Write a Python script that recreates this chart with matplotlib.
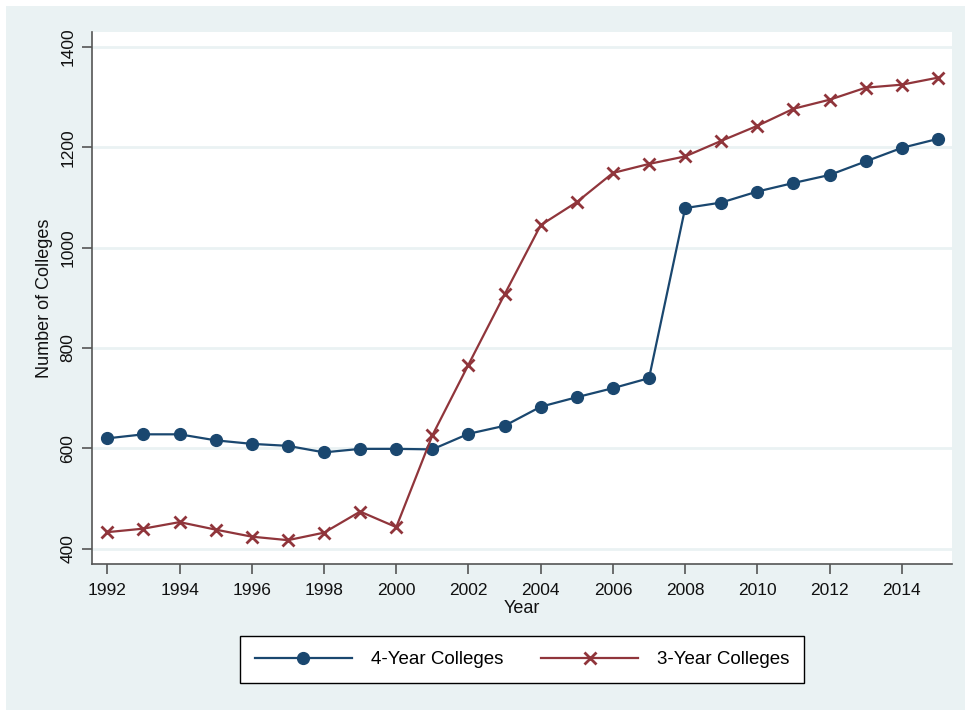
import matplotlib
matplotlib.use("Agg")
import matplotlib.pyplot as plt
from matplotlib.patches import Rectangle

# dati
years = list(range(1992, 2016))
four_year = [620, 628, 628, 616, 609, 605, 592, 599, 599, 598, 629, 645,
             683, 702, 720, 740, 1079, 1090, 1112, 1129, 1145, 1172, 1199, 1217]
three_year = [433, 440, 453, 438, 424, 417, 432, 474, 443, 626, 767, 907,
              1045, 1091, 1149, 1167, 1182, 1213, 1243, 1277, 1295, 1319, 1325, 1339]

xticks = list(range(1992, 2016, 2))
yticks = [400, 600, 800, 1000, 1200, 1400]

blue = "#1a476f"
red = "#90353b"
bg = "#eaf2f3"

plt.rcParams['font.family'] = ['Liberation Sans', 'DejaVu Sans']

fig = plt.figure(figsize=(9.65, 7.10), dpi=100)
fig.patch.set_facecolor("white")
# sfondo tipo Stata
fig.patches.append(Rectangle((6/965, 0), 1 - 6/965, 1 - 6/710, transform=fig.transFigure,
                             facecolor=bg, edgecolor="none", zorder=-10))

ax = fig.add_axes([92/965, 1 - 564/710, 860/965, 532/710])
ax.set_zorder(1)
ax.set_facecolor("white")

ax.plot(years, four_year, color=blue, lw=1.6, marker='o', ms=8.5, label="4-Year Colleges", zorder=3)
ax.plot(years, three_year, color=red, lw=1.6, marker='x', ms=8, mew=2, label="3-Year Colleges", zorder=3)

ax.set_xlim(1991.574, 2015.39)
ax.set_ylim(369.5, 1430)
ax.set_xticks(xticks)
ax.set_yticks(yticks)
ax.yaxis.grid(True, color=bg, lw=2)
ax.set_axisbelow(True)

for s in ["top", "right"]:
    ax.spines[s].set_visible(False)
for s in ["left", "bottom"]:
    ax.spines[s].set_color("#555555")
    ax.spines[s].set_linewidth(1.2)

ax.tick_params(axis='both', direction='out', length=7, width=1.2, color="#555555",
               labelsize=12.5, labelcolor="#111111")
plt.setp(ax.get_yticklabels(), rotation=90, va='center')
ax.tick_params(axis='y', pad=5)
ax.tick_params(axis='x', pad=7)

ax.set_xlabel("Year", fontsize=13, color="#111111", labelpad=1)
ax.set_ylabel("Number of Colleges", fontsize=13, color="#111111", labelpad=5)

leg = fig.legend(loc='center', bbox_to_anchor=(522/965, 1 - 659.5/710), ncol=2,
                 fontsize=13.5, frameon=True, fancybox=False, edgecolor="black",
                 framealpha=1, facecolor="white",
                 handlelength=5.2, handletextpad=1.0, columnspacing=2.0,
                 borderpad=0.8, borderaxespad=0)
leg.get_frame().set_linewidth(1.0)

fig.savefig("out.png", dpi=100, facecolor=fig.get_facecolor())
